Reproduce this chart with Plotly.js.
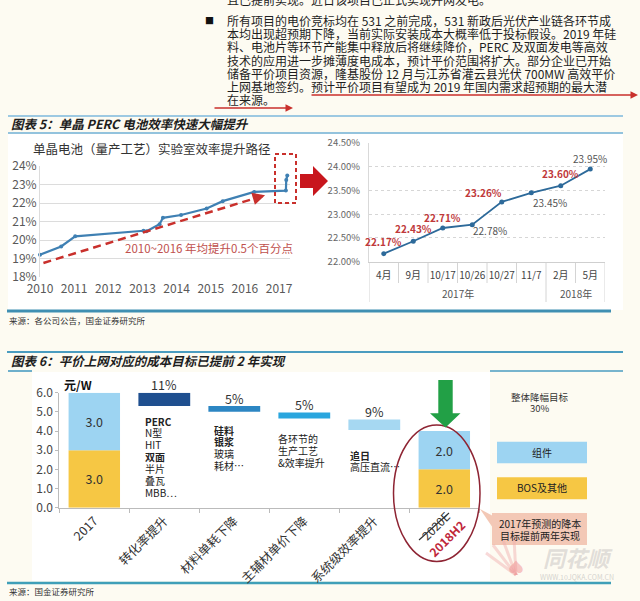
<!DOCTYPE html>
<html><head><meta charset="utf-8">
<script src="https://cdn.plot.ly/plotly-3.0.1.min.js"></script>
<style>html,body{margin:0;padding:0;background:#fdfbf2;}#chart{width:640px;height:601px;}</style>
</head><body><div id="chart"></div>
<script>
// ---------- DATA ----------
// Top text paragraph
const introLines = [
  "且已提前实现。近日该项目已正式实现并网发电。",
  "所有项目的电价竞标均在 531 之前完成，531 新政后光伏产业链各环节成",
  "本均出现超预期下降，当前实际安装成本大概率低于投标假设。2019 年硅",
  "料、电池片等环节产能集中释放后将继续降价，PERC 及双面发电等高效",
  "技术的应用进一步摊薄度电成本，预计平价范围将扩大。部分企业已开始",
  "储备平价项目资源，隆基股份 12 月与江苏省灌云县光伏 700MW 高效平价",
  "上网基地签约。预计平价项目有望成为 2019 年国内需求超预期的最大潜",
  "在来源。"
];
const fig5Title = "图表 5：单晶 PERC 电池效率快速大幅提升";
const fig5Source = "来源：各公司公告，国金证券研究所";
const fig6Title = "图表 6：平价上网对应的成本目标已提前 2 年实现";
const fig6Source = "来源：国金证券研究所";

// Fig 5 left: lab efficiency path
const labTitle = "单晶电池（量产工艺）实验室效率提升路径";
const labYears = [2010.0, 2010.62, 2011.03, 2013.03, 2013.12, 2013.5, 2013.6, 2014.13, 2014.88, 2015.35, 2016.27, 2017.2, 2017.21, 2017.24];
const labEff   = [19.2, 19.65, 20.2, 20.5, 20.47, 20.85, 21.2, 21.35, 21.7, 22.1, 22.6, 22.67, 23.25, 23.48];
const yearTicks = [2010, 2011, 2012, 2013, 2014, 2015, 2016, 2017];
const trendNote = "2010~2016 年均提升0.5个百分点";
const trendFrom = [2010.1, 18.76];
const trendTo = [2016.59, 22.42];

// Fig 5 right: record efficiencies
const recCats = ["4月", "9月", "10/17", "10/26", "10/27", "11/7", "2月", "5月"];
const recEff  = [22.17, 22.43, 22.71, 22.78, 23.26, 23.45, 23.60, 23.95];
const recHighlight = [true, true, true, false, true, false, true, false];
const recYearLabels = ["2017年", "2018年"];
const recYearCounts = [6, 2];

// Fig 6: cost breakdown
const costCats = ["2017", "转化率提升", "材料单耗下降", "主辅材单价下降", "系统级效率提升", "2018H2"];
const endCats = ["2017", "2018H2"];
const moduleCost = [3.0, 2.0];
const bosCost = [3.0, 2.0];
const stepCats = ["转化率提升", "材料单耗下降", "主辅材单价下降", "系统级效率提升"];
const stepTop = [6.0, 5.3, 4.97, 4.6];
const stepBottom = [5.3, 5.0, 4.65, 4.05];
const stepPct = ["11%", "5%", "5%", "9%"];
const oldTarget = "2020E";
const stepNotes = [
  [["PERC", true], ["N型", false], ["HIT", false], ["双面", true], ["半片", false], ["叠瓦", false], ["MBB…", false]],
  [["硅料", true], ["银浆", true], ["玻璃", false], ["耗材…", false]],
  [["各环节的", false], ["生产工艺", false], ["&效率提升", false]],
  [["追日", true], ["高压直流…", false]]
];
const unitLabel = "元/W";
const targetLabel = ["整体降幅目标", "30%"];
const legendNames = ["组件", "BOS及其他"];
const calloutText = ["2017年预测的降本", "目标提前两年实现"];

// ---------- LAYOUT HELPERS ----------
const W = 640, H = 601;
const px = x => x / W, py = y => 1 - y / H;
const FONT = "Noto Sans CJK SC, Roboto, sans-serif";
const RED = "#c9302c";
const C_MODULE = "#9dd4f2", C_BOS = "#f6c744";
const STEP_COLORS = ["#1f4f8f", "#2c86c3", "#2aa6de", "#a6d8f2"];

function T(text, x, y, o = {}) {
  const f = Object.assign({size: 12, color: "#222", family: FONT}, o.font || {});
  const a = Object.assign({xref: "paper", yref: "paper", x: px(x), y: py(y), text: text,
    showarrow: false, xanchor: "center", yanchor: "middle", borderpad: 0}, o);
  a.font = f;
  return a;
}
const P = (x, y) => px(x) + "," + py(y);
function line(x0, y0, x1, y1, color, width, dash) {
  return {type: "line", xref: "paper", yref: "paper", x0: px(x0), y0: py(y0), x1: px(x1), y1: py(y1),
    line: {color: color, width: width, dash: dash || "solid"}, layer: "below"};
}
function rect(x0, y0, x1, y1, fill, lineColor, lw, dash, layer) {
  return {type: "rect", xref: "paper", yref: "paper", x0: px(x0), y0: py(y0), x1: px(x1), y1: py(y1),
    fillcolor: fill, line: {color: lineColor || "rgba(0,0,0,0)", width: lw || 0, dash: dash || "solid"}, layer: layer || "below"};
}

const annotations = [];
const shapes = [];

// background panels
shapes.push(rect(8, 134, 623, 310, "#ffffff"));
shapes.push(rect(32, 372, 490, 581, "#ffffff"));

// rules
shapes.push(line(8, 116, 623, 116, "#7cb9dc", 1.5));
shapes.push(line(8, 133, 623, 133, "#6fb0d6", 1.6));
shapes.push(line(7, 311, 611, 311, "#3f8fb2", 3));
shapes.push(line(7, 352, 623, 352, "#4a9cc0", 2));
shapes.push(line(8, 371, 32, 371, "#4a9cc0", 1.6));
shapes.push(line(490, 371, 623, 371, "#4a9cc0", 1.6));
shapes.push(line(7, 583, 611, 583, "#3f9fb8", 2.5));

// intro paragraph
const introY = [-1, 20.5, 33.7, 46.9, 60.1, 73.3, 86.5, 99.7];
introLines.forEach((t, i) => annotations.push(T(t, 226, introY[i], {xanchor: "left", font: {size: 12, color: "#1e1e1e"}})));
annotations.push(T("■", 209, 20.5, {font: {size: 9, color: "#111"}}));
// red underlines with arrows
annotations.push({xref: "paper", yref: "paper", x: px(638), y: py(95), ax: -(638 - 310), ay: 0, text: "",
  showarrow: true, arrowhead: 2, arrowsize: 1, arrowwidth: 1.5, arrowcolor: RED});
annotations.push({xref: "paper", yref: "paper", x: px(293), y: py(108), ax: -80, ay: 0, text: "",
  showarrow: true, arrowhead: 2, arrowsize: 1, arrowwidth: 1.5, arrowcolor: RED});

// figure titles and sources
annotations.push(T("<b><i>" + fig5Title + "</i></b>", 10, 123.5, {xanchor: "left", font: {size: 12.5, color: "#1e1e1e"}}));
annotations.push(T("<b><i>" + fig6Title + "</i></b>", 10, 360, {xanchor: "left", font: {size: 12.5, color: "#1e1e1e"}}));
annotations.push(T(fig5Source, 8, 320, {xanchor: "left", font: {size: 8.5, color: "#333"}}));
annotations.push(T(fig6Source, 8, 591, {xanchor: "left", font: {size: 8.5, color: "#333"}}));

// ---- Fig 5 left extras ----
annotations.push(T(labTitle, 152, 148, {font: {size: 12.5, color: "#333"}}));
annotations.push(T(trendNote, 209, 248, {font: {size: 11.5, color: "#c0504d"}}));
shapes.push({type: "line", xref: "x", yref: "y", x0: trendFrom[0], y0: trendFrom[1], x1: trendTo[0], y1: trendTo[1],
  line: {color: RED, width: 2.5, dash: "8px,5px"}, layer: "above"});
annotations.push({xref: "x", yref: "y", x: trendTo[0], y: trendTo[1], ax: -9.6, ay: 2.9, text: "",
  showarrow: true, arrowhead: 2, arrowsize: 1, arrowwidth: 2.5, arrowcolor: RED});
shapes.push(rect(275, 154, 296, 203, "rgba(0,0,0,0)", RED, 2, "4px,3px", "above"));
shapes.push({type: "path", xref: "paper", yref: "paper", layer: "above",
  path: "M" + P(300, 174) + " L" + P(313, 174) + " L" + P(313, 166) + " L" + P(328, 181) + " L" + P(313, 196) + " L" + P(313, 188) + " L" + P(300, 188) + " Z",
  fillcolor: "#c8161d", line: {width: 0}});

// ---- Fig 5 right extras ----
const labelDx = [0, 0, 0, 18, -18, 19, 0, 0];
const labelDy = [12, 13, 10, -6, 9, -10, 12, 11];
recEff.forEach((v, i) => annotations.push({xref: "x2", yref: "y2", x: recCats[i], y: v, xshift: labelDx[i], yshift: labelDy[i],
  text: recHighlight[i] ? "<b>" + v.toFixed(2) + "%</b>" : v.toFixed(2) + "%", showarrow: false, borderpad: 0,
  font: {family: FONT, size: 10, color: recHighlight[i] ? "#c0393b" : "#555"}}));
// category separators and year row
let start = 0;
const longBounds = [-0.5];
recYearLabels.forEach((lab, g) => {
  const n = recYearCounts[g];
  annotations.push({xref: "x2", yref: "paper", x: start + (n - 1) / 2, y: py(293), text: lab, showarrow: false,
    font: {family: FONT, size: 10, color: "#555"}});
  start += n;
  longBounds.push(start - 0.5);
});
for (let b = -0.5; b <= recCats.length - 0.5; b += 1) {
  const isLong = longBounds.some(v => Math.abs(v - b) < 1e-6);
  shapes.push({type: "line", xref: "x2", yref: "paper", x0: b, x1: b, y0: py(262), y1: py(isLong ? 302 : 283),
    line: {color: "#d4d4d4", width: 1}, layer: "below"});
}

// ---- Fig 6 extras ----
annotations.push(T("<b>" + unitLabel + "</b>", 63, 384, {xanchor: "left", font: {size: 12, color: "#111"}}));
stepPct.forEach((t, i) => annotations.push({xref: "x3", yref: "y3", x: stepCats[i], y: stepTop[i], yshift: 8,
  text: t, showarrow: false, font: {family: FONT, size: 12.5, color: "#333"}}));
const noteX = [144, 213, 277, 349];
const noteY0 = [421, 430, 438.5, 455];
stepNotes.forEach((col, c) => col.forEach((item, r) => annotations.push(
  T(item[1] ? "<b>" + item[0] + "</b>" : item[0], noteX[c], noteY0[c] + r * 11.9, {xanchor: "left", font: {size: 10, color: "#222"}}))));
// original vs achieved target labels
annotations.push(T(oldTarget, 435, 525, {textangle: -45, font: {size: 12, color: "#333"}}));
annotations.push(T("<b>" + costCats[costCats.length - 1] + "</b>", 446, 538, {textangle: -45, font: {size: 12, color: "#c0273a"}}));
shapes.push({type: "line", xref: "paper", yref: "paper", x0: px(419), y0: py(540), x1: px(449), y1: py(513),
  line: {color: "#333", width: 1.2}, layer: "above"});
// ellipse, green arrow
shapes.push({type: "circle", xref: "paper", yref: "paper", x0: px(393.5), x1: px(480), y0: py(561.5), y1: py(425),
  line: {color: "#8e2433", width: 1.5}, layer: "above"});
shapes.push({type: "path", xref: "paper", yref: "paper", layer: "above",
  path: "M" + P(438.3, 380) + " L" + P(452.7, 380) + " L" + P(452.7, 413.3) + " L" + P(460.5, 413.3) + " L" + P(445.5, 427.5) + " L" + P(430, 413.3) + " L" + P(438.3, 413.3) + " Z",
  fillcolor: "#22a046", line: {width: 0}});
// right-hand notes / legend
annotations.push(T(targetLabel[0], 540, 397, {font: {size: 9.5, color: "#333"}}));
annotations.push(T(targetLabel[1], 540, 408.5, {font: {size: 9.5, color: "#333"}}));
shapes.push(rect(497, 441.7, 587, 463.3, C_MODULE));
shapes.push(rect(497, 477.3, 587, 499.3, C_BOS));
annotations.push(T(legendNames[0], 542, 452, {font: {size: 10, color: "#222"}}));
annotations.push(T(legendNames[1], 542, 488, {font: {size: 10, color: "#222"}}));
shapes.push(rect(492, 513, 587, 545, "#f3c8b6"));
shapes.push({type: "path", xref: "paper", yref: "paper", layer: "below",
  path: "M" + P(480, 509) + " L" + P(493, 516) + " L" + P(493, 528) + " Z", fillcolor: "#f3c8b6", line: {width: 0}});
annotations.push(T(calloutText[0], 539.5, 523, {font: {size: 10, color: "#222"}}));
annotations.push(T(calloutText[1], 539.5, 535.5, {font: {size: 10, color: "#222"}}));
// watermark
annotations.push(T("<b><i>同花顺</i></b>", 578, 557, {font: {size: 22, color: "rgba(190,185,185,0.45)"}}));
annotations.push(T("WWW.10JQKA.COM.CN", 577, 577, {font: {size: 7, color: "rgba(170,170,170,0.5)"}}));
annotations.push(T("♠", 516, 567, {font: {size: 16, color: "rgba(240,150,150,0.55)"}}));
[[486, 553], [493, 545], [503, 540], [514, 538]].forEach(p =>
  shapes.push({type: "line", xref: "paper", yref: "paper", x0: px(516), y0: py(575), x1: px(p[0]), y1: py(p[1]),
    line: {color: "rgba(240,170,170,0.45)", width: 3}, layer: "above"}));

// ---------- TRACES ----------
const traces = [
  {type: "scatter", mode: "lines+markers", x: labYears, y: labEff, xaxis: "x", yaxis: "y",
    line: {color: "#3f80b3", width: 2.2}, marker: {size: 4, color: "#3f80b3"}, cliponaxis: false, hoverinfo: "skip"},
  {type: "scatter", mode: "lines+markers", x: recCats, y: recEff, xaxis: "x2", yaxis: "y2",
    line: {color: "#2d6a9a", width: 1.8}, marker: {size: 5, color: "#2d6a9a"}, cliponaxis: false, hoverinfo: "skip"},
  {type: "bar", x: endCats, y: bosCost, base: [0, 0], xaxis: "x3", yaxis: "y3", width: 0.735,
    marker: {color: C_BOS}, text: bosCost.map(v => v.toFixed(1)), textposition: "inside", insidetextanchor: "middle",
    textfont: {size: 12.5, color: "#333", family: FONT}, hoverinfo: "skip"},
  {type: "bar", x: endCats, y: moduleCost, base: bosCost, xaxis: "x3", yaxis: "y3", width: 0.735,
    marker: {color: C_MODULE}, text: moduleCost.map(v => v.toFixed(1)), textposition: "inside", insidetextanchor: "middle",
    textfont: {size: 12.5, color: "#333", family: FONT}, hoverinfo: "skip"},
  {type: "bar", x: stepCats, y: stepTop.map((t, i) => t - stepBottom[i]), base: stepBottom, xaxis: "x3", yaxis: "y3", width: 0.74,
    marker: {color: STEP_COLORS}, hoverinfo: "skip"}
];

const tickText = costCats.map((c, i) => i === costCats.length - 1 ? "" : c);

const layout = {
  width: W, height: H, margin: {l: 0, r: 0, t: 0, b: 0},
  paper_bgcolor: "#fdfbf2", plot_bgcolor: "rgba(0,0,0,0)",
  showlegend: false, barmode: "overlay", font: {family: FONT},
  xaxis: {domain: [px(40), px(290)], range: [2010, 2017.32], tickvals: yearTicks, showgrid: false, zeroline: false,
    ticks: "", ticklabelstandoff: 3, tickfont: {size: 12, color: "#595959"}, anchor: "y", fixedrange: true},
  yaxis: {domain: [py(277), py(166)], range: [18, 24], dtick: 1, ticksuffix: "%", gridcolor: "#dcdcdc",
    showline: true, linecolor: "#dcdcdc", zeroline: false, tickfont: {size: 12, color: "#595959"}, anchor: "x"},
  xaxis2: {domain: [px(369), px(605)], type: "category", categoryorder: "array", categoryarray: recCats,
    range: [-0.5, 7.5], anchor: "y2", showline: true, linecolor: "#cfcfcf", showgrid: false,
    ticks: "", ticklabelstandoff: 4, tickfont: {size: 10, color: "#444"}},
  yaxis2: {domain: [py(261.7), py(143)], range: [22, 24.5], dtick: 0.5, tick0: 22, tickformat: ".2f", ticksuffix: "%",
    gridcolor: "#d6d6d6", griddash: "dot", showline: true, linecolor: "#d9d9d9", zeroline: false,
    ticklabelstandoff: 6, tickfont: {size: 9.5, color: "#666"}, anchor: "x2"},
  xaxis3: {domain: [px(59.3), px(479.3)], type: "category", categoryorder: "array", categoryarray: costCats,
    range: [-0.5, 5.5], tickvals: costCats, ticktext: tickText, tickangle: -45, ticks: "outside", tickson: "boundaries",
    ticklen: 4, tickcolor: "#bbb", showline: true, linecolor: "#bbb", showgrid: false,
    tickfont: {size: 12.5, color: "#333"}, anchor: "y3"},
  yaxis3: {domain: [py(507.7), py(392.7)], range: [0, 6], dtick: 1, tickformat: ".1f", showgrid: false,
    showline: true, linecolor: "#bbb", ticks: "outside", ticklen: 3, tickcolor: "#bbb", zeroline: false,
    tickfont: {size: 12, color: "#444"}, anchor: "x3"},
  annotations: annotations, shapes: shapes
};

Plotly.newPlot("chart", traces, layout, {displayModeBar: false, staticPlot: true});
</script></body></html>
